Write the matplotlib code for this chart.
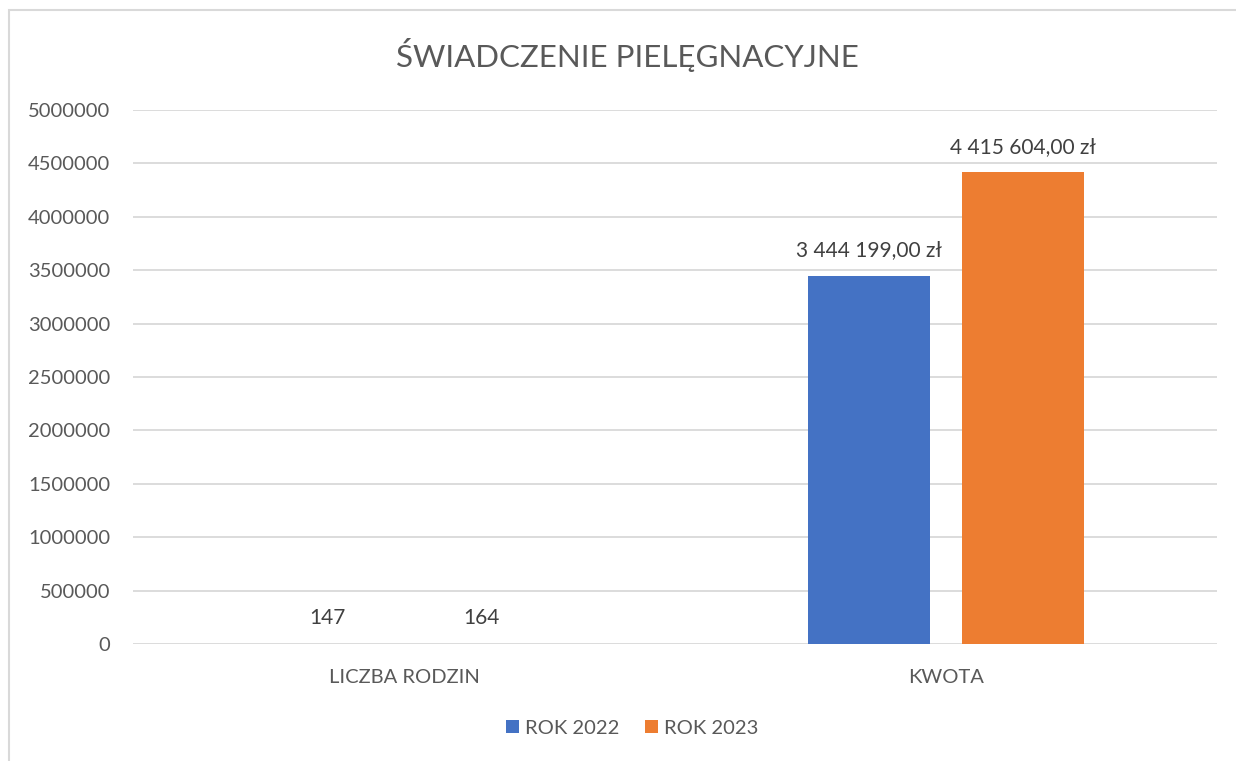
import matplotlib.pyplot as plt
import matplotlib.patches as patches
import numpy as np

categories = ['LICZBA RODZIN', 'KWOTA']
series_names = ['ROK 2022', 'ROK 2023']
values_2022 = [147, 3444199]
values_2023 = [164, 4415604]
labels_2022 = ['147', '3 444 199,00 zł']
labels_2023 = ['164', '4 415 604,00 zł']
y_ticks = list(range(0, 5000001, 500000))

BLUE = '#4472C4'
ORANGE = '#ED7D31'
TEXT = '#595959'
GRID = '#D9D9D9'

plt.rcParams['font.family'] = ['Lato', 'DejaVu Sans']

fig = plt.figure(figsize=(12.36, 7.61), dpi=100)
W, H = 1236, 761

# chart area border (extends past right/bottom edge like in the screenshot)
fig.add_artist(patches.Rectangle((9 / W, -0.05), 1.1, (H - 10) / H + 0.05,
                                 transform=fig.transFigure, fill=False,
                                 edgecolor=GRID, linewidth=1.5))

ax = fig.add_axes([133 / W, (H - 644) / H, (1217 - 133) / W, (644 - 110) / H])

x = np.arange(len(categories))
width = 0.225
offset = 0.142

b1 = ax.bar(x - offset, values_2022, width, color=BLUE, label=series_names[0], zorder=3)
b2 = ax.bar(x + offset, values_2023, width, color=ORANGE, label=series_names[1], zorder=3)

# data labels, centred ~26px above each bar top
for bars, labs in ((b1, labels_2022), (b2, labels_2023)):
    for rect, lab in zip(bars, labs):
        ax.annotate(lab, (rect.get_x() + rect.get_width() / 2, rect.get_height()),
                    xytext=(0, 18.5), textcoords='offset points',
                    ha='center', va='center', fontsize=15, color='#404040')

ax.set_xlim(-0.5, 1.5)
ax.set_ylim(0, 5000000)
ax.set_yticks(y_ticks)
ax.set_yticklabels([str(v) for v in y_ticks])
ax.set_xticks(x)
ax.set_xticklabels(categories)
ax.tick_params(axis='y', length=0, pad=16.5, labelsize=14.5, labelcolor=TEXT)
ax.tick_params(axis='x', length=0, pad=18, labelsize=14.5, labelcolor=TEXT)
ax.grid(axis='y', color=GRID, linewidth=1.3, zorder=0)
for s in ax.spines.values():
    s.set_visible(False)

fig.text(627 / W, (H - 55) / H, 'ŚWIADCZENIE PIELĘGNACYJNE', ha='center', va='center',
         fontsize=22.5, color=TEXT)

leg = fig.legend(loc='center', bbox_to_anchor=(632 / W, (H - 728) / H), ncol=2,
                 frameon=False, fontsize=14.5, handlelength=0.65, handleheight=0.65,
                 handletextpad=0.3, columnspacing=1.25)
for t in leg.get_texts():
    t.set_color(TEXT)

fig.savefig('out.png', dpi=100)
